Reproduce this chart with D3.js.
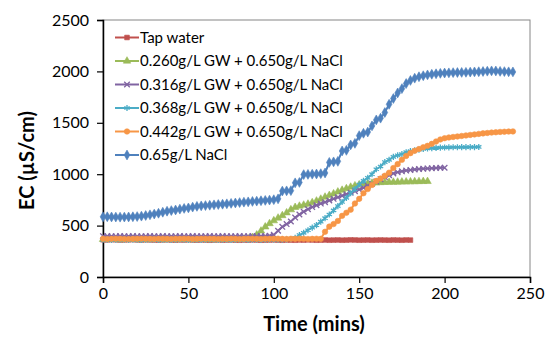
<!DOCTYPE html>
<html>
<head>
<meta charset="utf-8">
<script src="https://cdn.jsdelivr.net/npm/d3@7"></script>
<style>
  body { margin: 0; background: #fff; }
  text { font-family: Lato, "Open Sans", sans-serif; fill: #000; }
</style>
</head>
<body>
<div class="canvas"></div>
<script>
// Sampling interval (minutes) shared by every series
const step = 2.5;

const seriesNames = [
  'Tap water',
  '0.260g/L GW + 0.650g/L NaCl',
  '0.316g/L GW + 0.650g/L NaCl',
  '0.368g/L GW + 0.650g/L NaCl',
  '0.442g/L GW + 0.650g/L NaCl',
  '0.65g/L NaCl'
];

// EC readings (µS/cm), one every 2.5 min starting at t = 0
const tapWater = [
  362, 361, 363, 362, 360, 361, 362, 363, 361, 360, 362, 361, 360, 359, 361, 362, 360, 359, 361, 360,
  362, 360, 359, 361, 360, 358, 360, 361, 359, 360, 361, 359, 358, 360, 359, 361, 360, 358, 359, 360,
  361, 359, 358, 360, 359, 358, 360, 359, 361, 360, 358, 359, 360, 358, 359, 360, 358, 359, 361, 360,
  358, 359, 360, 358, 359, 360, 359, 358, 360, 359, 358, 360, 359
];
const gw260 = [
  366, 365, 367, 366, 364, 365, 366, 367, 365, 364, 366, 365, 367, 366, 364, 365, 366, 365, 367, 366,
  365, 364, 366, 367, 365, 366, 364, 365, 367, 366, 365, 366, 367, 368, 372,
  385, 410, 448, 488, 520, 548, 574, 598, 625, 655, 678, 690, 700, 710, 724, 740, 758, 778, 794, 810,
  828, 845, 860, 875, 888, 898, 905, 910, 914, 917, 919, 921, 922, 923, 924, 925, 926, 927, 928, 929,
  930, 930
];
const gw316 = [
  397, 398, 396, 397, 398, 397, 396, 398, 397, 396, 397, 398, 397, 396, 398, 397, 396, 397, 398, 397,
  396, 398, 397, 396, 397, 398, 397, 396, 398, 397, 396, 397, 398, 397, 396, 398, 397, 398, 399, 401,
  410, 450, 488, 515, 540, 578, 608, 635, 660, 680, 698, 714, 728, 744, 760, 775, 790, 805, 820, 835,
  850, 868, 888, 908, 928, 952, 972, 990, 1008, 1020, 1028, 1035, 1041, 1046, 1050, 1053, 1056, 1058, 1060, 1062,
  1063
];
const gw368 = [
  362, 363, 361, 362, 363, 362, 361, 363, 362, 361, 362, 363, 362, 361, 363, 362, 361, 362, 363, 362,
  361, 363, 362, 361, 362, 363, 362, 361, 363, 362, 361, 362, 363, 362, 361, 363, 362, 361, 362, 363,
  362, 363, 364, 366, 370,
  380, 408, 430, 455, 480, 505, 538, 572, 608, 648, 690, 730, 770, 815, 855, 900, 935, 965, 1000, 1048,
  1075, 1118, 1140, 1168, 1184, 1196, 1214, 1224, 1232, 1239, 1245, 1250, 1253, 1256, 1258, 1260, 1261, 1262, 1262, 1263,
  1263, 1264, 1264, 1265
];
const gw442 = [
  372, 370, 371, 373, 372, 370, 369, 371, 372, 373, 372, 371, 370, 372, 373, 371, 370, 372, 371, 373,
  372, 370, 371, 372, 373, 372, 371, 370, 372, 371, 373, 372, 370, 371, 372, 373, 371, 370, 372, 371,
  372, 373, 371, 370, 372, 371, 373, 372, 370, 371, 372, 371,
  440, 490, 515, 545, 595, 625, 655, 715, 760, 815, 855, 895, 935, 958, 985, 1015, 1060, 1098, 1140, 1178,
  1205, 1228, 1245, 1262, 1276, 1295, 1318, 1338, 1350, 1357, 1362, 1367, 1372, 1377, 1382, 1387, 1392, 1397, 1401, 1405,
  1408, 1411, 1413, 1415, 1416
];
const nacl065 = [
  585, 586, 584, 583, 582, 583, 584, 586, 588, 592, 598, 605, 612, 620, 630, 640, 646, 652, 660, 667,
  672, 680, 687, 692, 695, 698, 702, 705, 708, 712, 716, 720, 724, 728, 731, 735, 738, 742, 745, 748,
  752, 760, 836, 838, 840, 916, 920, 996, 998, 1000, 1002, 1005, 1012, 1115, 1120, 1125, 1226, 1232, 1285, 1300,
  1375, 1398, 1410, 1470, 1528, 1545, 1600, 1680, 1736, 1790, 1832, 1882, 1912, 1934, 1948, 1958, 1966, 1972, 1977, 1981,
  1984, 1986, 1988, 1989, 1990, 1991, 1993, 1995, 1997, 1999, 2002, 2005, 2004, 2000, 1998, 1996, 1995
];

const xTicks = [0, 50, 100, 150, 200, 250];
const yTicks = [0, 500, 1000, 1500, 2000, 2500];

const seriesValues = [tapWater, gw260, gw316, gw368, gw442, nacl065];
const colors = ['#C0504D', '#9BBB59', '#8064A2', '#4BACC6', '#F79646', '#4F81BD'];
const symbols = [d3.symbolSquare, d3.symbolTriangle, d3.symbolX, d3.symbolAsterisk, d3.symbolCircle, d3.symbolDiamond];
const symbolSizes = [22, 24, 22, 26, 24, 28];
const strokeSymbols = [false, false, true, true, false, false];

const width = 550, height = 337;
const margin = { top: 20, right: 20, bottom: 60, left: 103 };

const svg = d3.select('.canvas')
  .append('svg')
  .attr('width', width)
  .attr('height', height);

const x = d3.scaleLinear().domain([0, 250]).range([margin.left, width - margin.right]);
const y = d3.scaleLinear().domain([0, 2500]).range([height - margin.bottom, margin.top]);

// plot area border (top / right)
svg.append('rect')
  .attr('x', x(0)).attr('y', y(2500))
  .attr('width', x(250) - x(0)).attr('height', y(0) - y(2500))
  .attr('fill', 'none').attr('stroke', '#868686').attr('stroke-width', 1);

const xAxis = svg.append('g')
  .attr('transform', `translate(0, ${y(0)})`)
  .call(d3.axisBottom(x).tickValues(xTicks).tickFormat(d3.format('d')).tickSize(6).tickPadding(5));

const yAxis = svg.append('g')
  .attr('transform', `translate(${x(0)}, 0)`)
  .call(d3.axisLeft(y).tickValues(yTicks).tickFormat(d3.format('d')).tickSize(6).tickPadding(8));

[xAxis, yAxis].forEach(g => {
  g.select('.domain').attr('stroke', '#000').attr('stroke-width', 1.5);
  g.selectAll('.tick line').attr('stroke', '#000').attr('stroke-width', 1.2);
  g.selectAll('.tick text').style('font-size', '16px').style('font-family', 'Lato, sans-serif').attr('fill', '#000');
});

svg.append('text')
  .attr('x', 314)
  .attr('y', 331)
  .attr('text-anchor', 'middle')
  .style('font-size', '20px')
  .style('font-weight', 'bold')
  .text('Time (mins)');

svg.append('text')
  .attr('transform', `translate(34, ${(y(0) + y(2500)) / 2 + 12}) rotate(-90)`)
  .attr('text-anchor', 'middle')
  .style('font-size', '20px')
  .style('font-weight', 'bold')
  .text('EC (µS/cm)');

const line = d3.line()
  .x((d, i) => x(i * step))
  .y(d => y(d));

const markerPath = i => d3.symbol().type(symbols[i]).size(symbolSizes[i])();

const styleMarker = (sel, i) => {
  if (strokeSymbols[i]) {
    sel.attr('fill', 'none').attr('stroke', colors[i]).attr('stroke-width', 1.3);
  } else {
    sel.attr('fill', colors[i]).attr('stroke', colors[i]).attr('stroke-width', 0.6);
  }
};

seriesValues.forEach((vals, i) => {
  const g = svg.append('g');
  g.append('path')
    .datum(vals)
    .attr('d', line)
    .attr('fill', 'none')
    .attr('stroke', colors[i])
    .attr('stroke-width', 2);
  g.selectAll('path.mark')
    .data(vals)
    .enter()
    .append('path')
    .attr('class', 'mark')
    .attr('d', markerPath(i))
    .attr('transform', (d, j) => `translate(${x(j * step)}, ${y(d)})`)
    .call(styleMarker, i);
});

// legend
const legend = svg.append('g').attr('transform', 'translate(115, 37.5)');
seriesNames.forEach((name, i) => {
  const row = legend.append('g').attr('transform', `translate(0, ${i * 23.5})`);
  row.append('line')
    .attr('x1', 0).attr('x2', 24)
    .attr('stroke', colors[i]).attr('stroke-width', 2);
  row.append('path')
    .attr('d', markerPath(i))
    .attr('transform', 'translate(12, 0)')
    .call(styleMarker, i);
  row.append('text')
    .attr('x', 25)
    .attr('dy', '0.35em')
    .style('font-size', '15px')
    .text(name);
});
</script>
</body>
</html>
